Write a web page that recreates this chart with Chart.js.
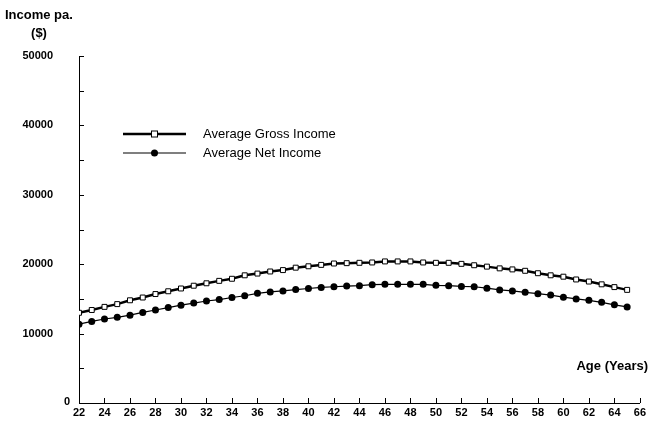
<!DOCTYPE html>
<html>
<head>
<meta charset="utf-8">
<script src="https://cdn.jsdelivr.net/npm/chart.js@4/dist/chart.umd.min.js"></script>
<style>
  html, body { margin: 0; padding: 0; background: #fff; overflow: hidden; }
  canvas { display: block; }
</style>
</head>
<body>
<canvas id="incomeChart" width="649" height="421"></canvas>
<script>
// ages 22..65, one point per year
const ages = [22,23,24,25,26,27,28,29,30,31,32,33,34,35,36,37,38,39,40,41,42,43,
  44,45,46,47,48,49,50,51,52,53,54,55,56,57,58,59,60,61,62,63,64,65];
const grossIncome = [13000,13400,13850,14250,14800,15200,15700,16100,16500,16900,17250,17600,
  17900,18400,18650,18950,19150,19500,19700,19900,20100,20150,20200,20250,20400,20400,
  20400,20250,20200,20200,20050,19850,19650,19400,19250,19050,18700,18400,18200,17800,
  17500,17100,16700,16300];
const netIncome = [11350,11750,12100,12350,12650,13050,13400,13750,14100,14400,14700,14900,
  15200,15450,15800,16000,16150,16350,16500,16650,16750,16850,16900,17050,17100,17100,
  17100,17100,16950,16900,16800,16750,16550,16300,16150,15950,15750,15550,15250,15000,
  14800,14500,14150,13850];
const seriesLabels = ["Average Gross Income", "Average Net Income"];
const yTitle = ["Income pa.", "($)"];
const xTitle = "Age (Years)";
const xMin = 22, xMax = 66, xStep = 2;
const yMin = 0, yMax = 50000, yStep = 10000, yMinorStep = 5000;

const FONT = "'Liberation Sans', Arial, sans-serif";

// small ticks pointing into the plot, titles and the legend
const decorations = {
  id: "decorations",
  afterDraw(chart) {
    const { ctx, scales: { x, y }, chartArea } = chart;
    ctx.save();
    ctx.strokeStyle = "#000";
    ctx.lineWidth = 1;
    ctx.beginPath();
    for (let v = yMinorStep; v <= yMax; v += yMinorStep) {
      const py = Math.round(y.getPixelForValue(v)) + 0.5;
      ctx.moveTo(chartArea.left, py);
      ctx.lineTo(chartArea.left + 5, py);
    }
    for (let v = xMin + xStep; v <= xMax; v += xStep) {
      const px = Math.round(x.getPixelForValue(v)) + 0.5;
      ctx.moveTo(px, chartArea.bottom);
      ctx.lineTo(px, chartArea.bottom - 5);
    }
    ctx.stroke();

    // the zero label sits closer to the axis than the others
    ctx.fillStyle = "#000";
    ctx.font = "bold 11px " + FONT;
    ctx.textBaseline = "middle";
    ctx.textAlign = "right";
    ctx.fillText(String(yMin), chartArea.left - 9, y.getPixelForValue(yMin) - 1);

    // axis titles
    ctx.font = "bold 13px " + FONT;
    ctx.textAlign = "left";
    ctx.fillText(yTitle[0], 5, 15);
    ctx.textAlign = "center";
    ctx.fillText(yTitle[1], 39, 33);
    ctx.textAlign = "right";
    ctx.fillText(xTitle, 648, 366);

    // legend
    const ds = chart.data.datasets;
    const rows = [134, 153];
    ds.forEach((d, i) => {
      const ly = rows[i];
      ctx.strokeStyle = d.borderColor;
      ctx.lineWidth = d.borderWidth;
      ctx.beginPath();
      ctx.moveTo(123, ly);
      ctx.lineTo(186, ly);
      ctx.stroke();
      ctx.lineWidth = 1;
      if (d.pointStyle === "rect") {
        ctx.fillStyle = "#fff";
        ctx.fillRect(151.5, ly - 3, 6, 6);
        ctx.strokeRect(151.5, ly - 3, 6, 6);
      } else {
        ctx.fillStyle = "#000";
        ctx.beginPath();
        ctx.arc(154.5, ly, 3.5, 0, Math.PI * 2);
        ctx.fill();
      }
      ctx.fillStyle = "#000";
      ctx.font = "13px " + FONT;
      ctx.textAlign = "left";
      ctx.fillText(d.label, 203, ly);
    });
    ctx.restore();
  }
};

const toPoints = vals => ages.map((a, i) => ({ x: a, y: vals[i] }));

new Chart(document.getElementById("incomeChart"), {
  type: "line",
  data: {
    datasets: [
      {
        label: seriesLabels[0],
        data: toPoints(grossIncome),
        borderColor: "#000",
        borderWidth: 2.5,
        pointStyle: "rect",
        pointRadius: 3.5,
        pointBackgroundColor: "#fff",
        pointBorderColor: "#000",
        pointBorderWidth: 1,
        tension: 0
      },
      {
        label: seriesLabels[1],
        data: toPoints(netIncome),
        borderColor: "#000",
        borderWidth: 1.2,
        pointStyle: "circle",
        pointRadius: 3.5,
        pointBackgroundColor: "#000",
        pointBorderColor: "#000",
        pointBorderWidth: 0,
        tension: 0
      }
    ]
  },
  options: {
    responsive: false,
    animation: false,
    layout: { padding: { top: 56, right: 9, left: 0, bottom: 0 } },
    plugins: {
      legend: { display: false },
      tooltip: { enabled: false }
    },
    scales: {
      x: {
        type: "linear",
        min: xMin,
        max: xMax,
        grid: { display: false, drawTicks: false },
        border: { color: "#000", width: 1 },
        afterFit: s => { s.height = 18; },
        ticks: {
          stepSize: xStep,
          padding: 3,
          color: "#000",
          maxRotation: 0,
          autoSkip: false,
          font: { family: FONT, size: 11, weight: "bold" }
        }
      },
      y: {
        min: yMin,
        max: yMax,
        grid: { display: false, drawTicks: false },
        border: { color: "#000", width: 1 },
        // the big label gap would otherwise push the plot up from the bottom
        afterFit: s => { s.width = 79; s.paddingTop = 7; s.paddingBottom = 7; },
        ticks: {
          stepSize: yStep,
          padding: 26,
          color: "#000",
          callback: v => (v === yMin ? "" : String(v)),
          font: { family: FONT, size: 11, weight: "bold" }
        }
      }
    }
  },
  plugins: [decorations]
});
</script>
</body>
</html>
